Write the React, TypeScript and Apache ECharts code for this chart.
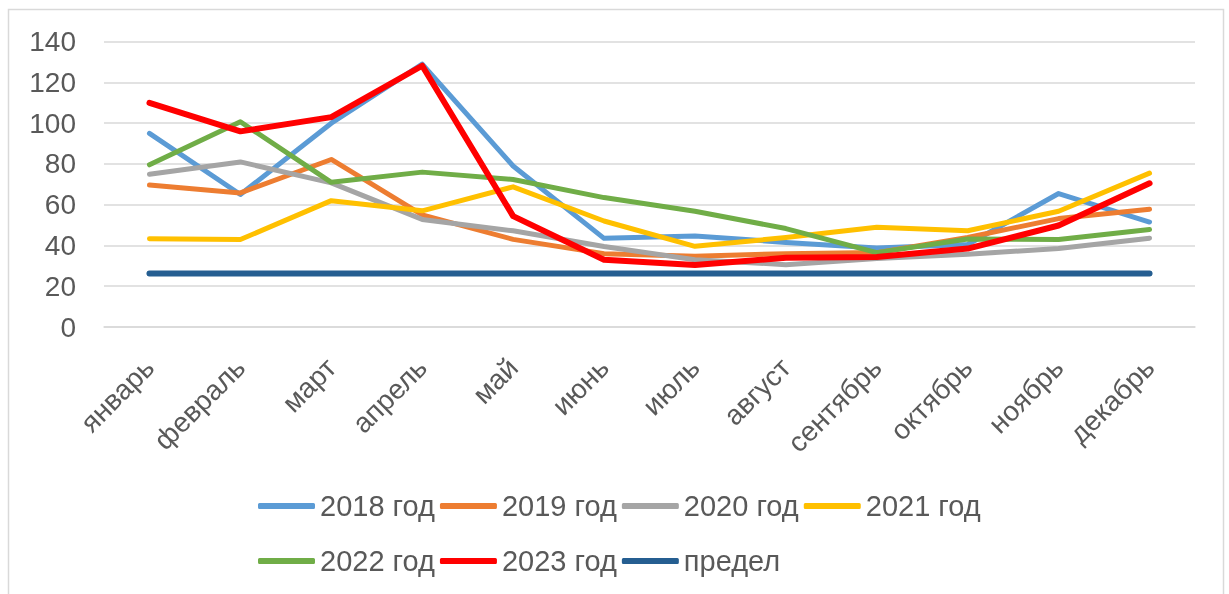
import React, { useEffect, useRef } from "react";
import * as echarts from "echarts";

const months = ["январь", "февраль", "март", "апрель", "май", "июнь", "июль", "август", "сентябрь", "октябрь", "ноябрь", "декабрь"];
const yTicks = [0, 20, 40, 60, 80, 100, 120, 140];

const s2018 = [95, 65, 100, 129, 79, 43.5, 44.7, 41.5, 38.8, 40.5, 65.5, 51.5];
const s2019 = [69.7, 65.8, 82.2, 55, 43, 36, 34.7, 36, 36.5, 43.9, 53.2, 57.8];
const s2020 = [75, 81, 70.7, 52.8, 47.2, 39.5, 33, 30.6, 33.6, 35.7, 38.5, 43.6];
const s2021 = [43.3, 42.9, 62, 57, 68.8, 52, 39.6, 43.9, 49, 47.2, 56.8, 75.5];
const s2022 = [79.6, 100.7, 71, 76, 72.4, 63.5, 56.8, 48.3, 36.5, 43.2, 42.9, 47.8];
const s2023 = [110, 96, 103, 128.2, 54.4, 33, 30.4, 34, 34.4, 38.5, 49.8, 70.5];
const limitValues = [26.3, 26.3, 26.3, 26.3, 26.3, 26.3, 26.3, 26.3, 26.3, 26.3, 26.3, 26.3];

const seriesNames = ["2018 год", "2019 год", "2020 год", "2021 год", "2022 год", "2023 год", "предел"];
const seriesData = [s2018, s2019, s2020, s2021, s2022, s2023, limitValues];
const colors = ["#5B9BD5", "#ED7D31", "#A5A5A5", "#FFC000", "#70AD47", "#FF0000", "#255E91"];
const widths = [5, 5, 5, 5, 5, 6, 6];

const FONT = "'Liberation Sans', Arial, sans-serif";
const TEXT = "#595959";

export default function App() {
  const ref = useRef<HTMLDivElement>(null);
  useEffect(() => {
    if (!ref.current) return;
    const chart = echarts.init(ref.current, null, { renderer: "svg" });
    const legendCommon = {
      icon: "roundRect",
      itemWidth: 57,
      itemHeight: 6,
      itemGap: 5,
      padding: 0,
      orient: "horizontal",
      textStyle: { color: TEXT, fontSize: 29, fontFamily: FONT, lineHeight: 32 },
    };
    chart.setOption({
      animation: false,
      textStyle: { fontFamily: FONT },
      graphic: [
        {
          type: "rect",
          shape: { x: 8.5, y: 9.5, width: 1215, height: 620 },
          style: { fill: "none", stroke: "#D9D9D9", lineWidth: 1.5 },
          silent: true,
        },
      ],
      grid: { left: 104, right: 34, top: 41.7, bottom: 267, containLabel: false },
      legend: [
        { ...legendCommon, left: 258, top: 490, data: seriesNames.slice(0, 4) },
        { ...legendCommon, left: 258, top: 545, data: seriesNames.slice(4) },
      ],
      xAxis: {
        type: "category",
        data: months,
        boundaryGap: true,
        axisLine: { show: true, lineStyle: { color: "#D9D9D9", width: 1.5 } },
        axisTick: { show: false },
        axisLabel: { rotate: 45, color: TEXT, fontSize: 28, fontFamily: FONT, margin: 36, interval: 0 },
      },
      yAxis: {
        type: "value",
        min: yTicks[0],
        max: yTicks[yTicks.length - 1],
        interval: 20,
        axisLine: { show: false },
        axisTick: { show: false },
        splitLine: { lineStyle: { color: "#D9D9D9", width: 1.5 } },
        axisLabel: { color: TEXT, fontSize: 28, fontFamily: FONT, margin: 28 },
      },
      series: seriesNames.map((name, i) => ({
        name,
        type: "line",
        data: seriesData[i],
        showSymbol: false,
        symbol: "none",
        color: colors[i],
        lineStyle: { color: colors[i], width: widths[i], cap: "round", join: "round" },
        z: 2 + i,
      })),
    });
    return () => chart.dispose();
  }, []);
  return <div ref={ref} style={{ position: "fixed", left: 0, top: 0, width: 1229, height: 594 }} />;
}
